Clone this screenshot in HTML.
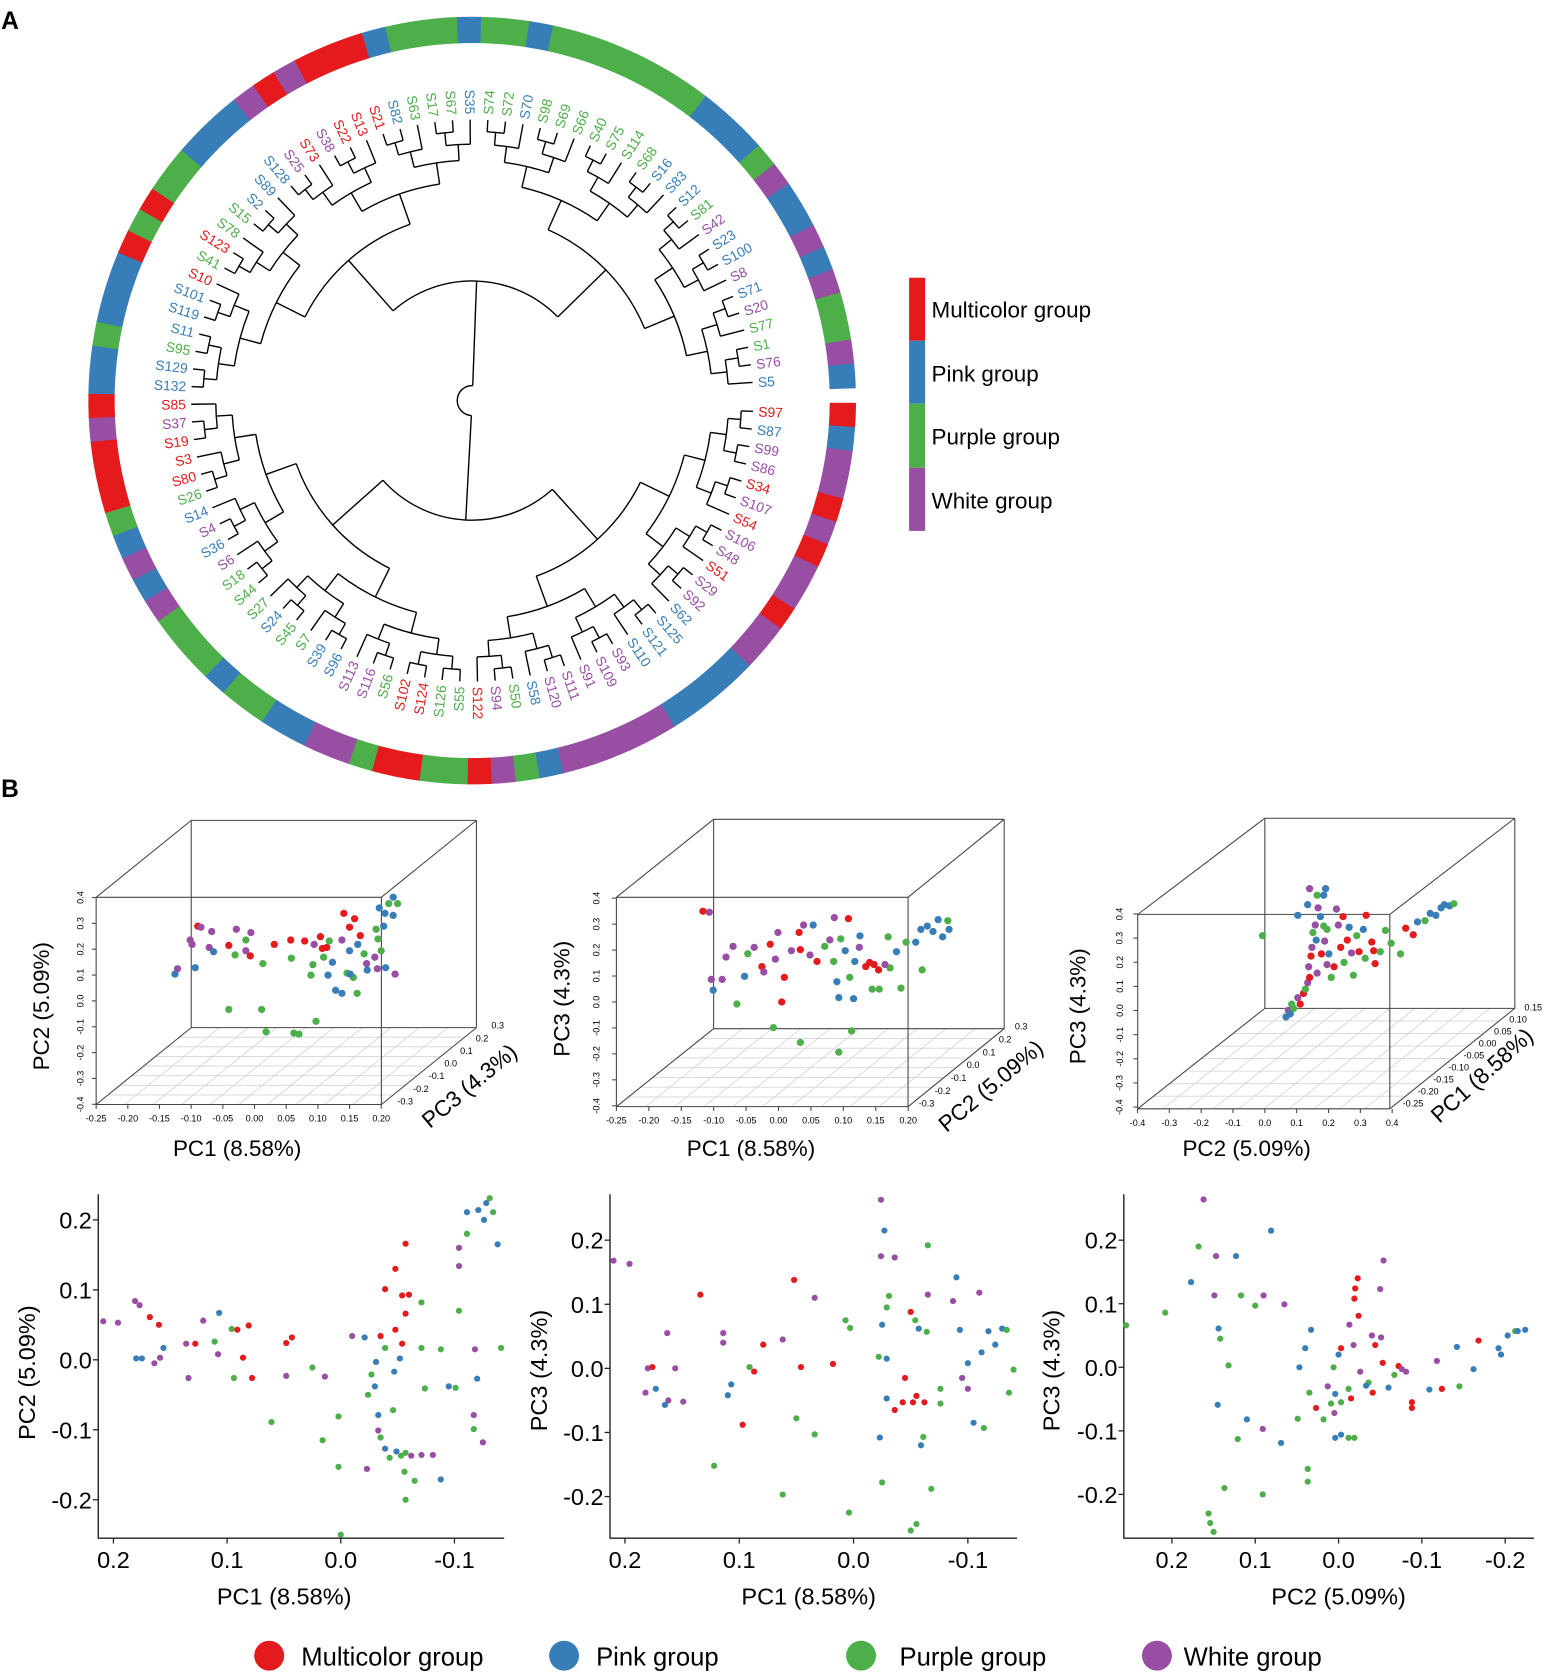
<!DOCTYPE html>
<html><head><meta charset="utf-8">
<style>
html,body{margin:0;padding:0;background:#fff}
svg{display:block;font-family:"Liberation Sans",Arial,sans-serif}
</style></head>
<body>
<svg id="fig" width="1549" height="1676" viewBox="0 0 1450 1569" preserveAspectRatio="none" xmlns="http://www.w3.org/2000/svg">
<rect x="0" y="0" width="1450" height="1569" fill="#fff"/>
<text x="1" y="27" font-size="23" font-weight="bold">A</text>
<text x="1" y="746" font-size="23" font-weight="bold">B</text>
<g id="ring"></g>
<g id="tree" stroke="#000" stroke-width="1.3" fill="none"></g>
<g id="leaflabels" font-size="13"></g>
<g>
<rect x="851" y="260" width="15" height="59" fill="#e41a1c"/>
<rect x="851" y="319" width="15" height="59" fill="#377eb8"/>
<rect x="851" y="378" width="15" height="60" fill="#4daf4a"/>
<rect x="851" y="438" width="15" height="59" fill="#984ea3"/>
<text x="872" y="297" font-size="21">Multicolor group</text>
<text x="872" y="357" font-size="21">Pink group</text>
<text x="872" y="416" font-size="21">Purple group</text>
<text x="872" y="476" font-size="21">White group</text>
</g>
<g id="p3d"></g>
<g id="p2d"></g>
<g font-size="24">
<circle cx="252" cy="1550" r="14" fill="#e41a1c"/>
<text x="282" y="1559">Multicolor group</text>
<circle cx="528" cy="1550" r="14" fill="#377eb8"/>
<text x="558" y="1559">Pink group</text>
<circle cx="806" cy="1550" r="14" fill="#4daf4a"/>
<text x="842" y="1559">Purple group</text>
<circle cx="1083" cy="1550" r="14" fill="#984ea3"/>
<text x="1108" y="1559">White group</text>
</g>
</svg>
<script>
const NS="http://www.w3.org/2000/svg";
const groupColors=["#e41a1c","#377eb8","#4daf4a","#984ea3"];
const leafNames=["S97","S87","S99","S86","S34","S107","S54","S106","S48","S51","S29","S92","S62","S125","S121","S110","S93","S109","S91","S111","S120","S58","S50","S94","S122","S55","S126","S124","S102","S56","S116","S113","S96","S39","S7","S45","S24","S27","S44","S18","S6","S36","S4","S14","S26","S80","S3","S19","S37","S85","S132","S129","S95","S11","S119","S101","S10","S41","S123","S78","S15","S2","S89","S128","S25","S73","S38","S22","S13","S21","S82","S63","S17","S67","S35","S74","S72","S70","S98","S69","S66","S40","S75","S114","S68","S16","S83","S12","S81","S42","S23","S100","S8","S71","S20","S77","S1","S76","S5"];
const leafGroups=[0,1,3,3,0,3,0,3,3,0,3,3,1,1,1,1,3,3,3,3,3,1,2,3,0,2,2,0,0,2,3,3,1,1,2,2,1,2,2,2,3,1,3,1,2,0,0,0,3,0,1,1,2,1,1,1,0,2,0,2,2,1,1,1,3,0,3,0,0,0,1,2,2,2,1,2,2,1,2,2,2,2,2,2,2,1,1,1,2,3,1,1,3,1,3,2,2,3,1];

const s1X=[.209,.196,.181,.177,.168,.160,.180,.175,.164,.159,.156,.136,.128,.134,.121,.107,.111,.108,.094,.096,.091,.081,.086,.078,.048,.043,.048,.025,.061,.014,-.010,-.021,-.031,-.035,.002,.002,.016,-.023,-.024,-.027,-.030,-.033,-.033,-.035,-.039,-.043,-.046,-.049,-.053,-.057,-.062,-.056,-.065,-.071,-.081,-.088,-.057,.000,-.039,-.048,-.054,-.057,-.060,-.057,-.048,-.054,-.039,-.052,-.047,-.071,-.071,-.074,-.088,-.095,-.101,-.104,-.104,-.104,-.111,-.111,-.121,-.128,-.131,-.134,-.126,-.138,-.118,-.120,-.117,-.125,-.141,-.117];
const s1Y=[.055,.053,.084,.078,.061,.050,.002,.002,-.005,.003,.017,.023,.023,-.026,.056,.067,.026,.008,-.026,.044,.043,.049,.003,-.026,.024,.032,-.023,-.011,-.089,-.024,.034,.032,-.003,.034,-.081,-.153,-.115,-.156,-.050,-.021,-.038,-.079,-.101,-.111,-.127,-.140,-.072,-.131,-.137,-.133,-.137,-.160,-.173,-.136,-.136,-.171,-.200,-.250,.101,.130,.092,.166,.093,.066,.043,.023,.017,.002,-.017,.082,.017,-.041,.015,-.038,-.040,.070,.134,.160,.180,.211,.214,.224,.231,.211,.200,.165,.015,-.027,-.079,-.118,.017,-.099];
const s1G=[3,3,3,3,0,0,1,1,3,3,1,3,0,3,3,1,2,3,2,2,0,0,0,0,0,0,3,2,2,3,3,1,1,0,2,2,2,3,2,2,1,1,3,2,1,2,2,1,2,2,3,2,2,3,3,1,2,2,0,0,0,0,0,0,0,0,2,1,1,2,2,2,2,1,2,2,3,3,2,1,1,1,2,2,1,1,3,1,3,3,2,2];

const s2X=[.210,.196,-.024,-.027,-.024,-.036,-.065,.052,.134,.034,-.031,-.029,-.050,-.054,-.065,-.090,-.087,-.110,.163,.114,.114,.079,.062,.007,.003,-.025,-.057,-.064,-.118,-.130,-.134,-.124,-.112,-.100,-.095,-.022,-.029,.180,.176,.156,.182,.173,.162,.165,.149,.091,.087,.107,.110,.097,.046,.018,.122,.062,.004,-.025,-.050,-.055,-.068,.050,.034,-.029,-.043,-.052,-.055,-.062,-.061,-.059,-.023,-.036,-.045,-.076,-.076,-.100,-.105,-.114,-.136,-.140,-.093];
const s2Y=[.168,.163,.263,.215,.175,.173,.192,.138,.115,.110,.113,.095,.088,.075,.115,.142,.105,.118,.055,.055,.040,.037,.045,.075,.063,.068,.062,.057,.058,.062,.060,.037,.025,.008,-.015,.018,.015,.000,.002,.000,-.038,-.032,-.050,-.057,-.052,.002,-.005,-.025,-.042,-.088,.002,.007,-.152,-.197,-.225,-.178,-.253,-.243,-.188,-.078,-.103,-.047,-.053,-.053,-.043,-.053,-.107,-.120,-.108,-.065,-.015,-.055,-.032,-.032,-.085,-.093,-.038,-.002,.060];
const s2G=[3,3,3,1,3,3,2,0,0,3,2,2,0,2,3,1,3,3,3,3,3,0,3,2,2,1,1,2,1,1,2,1,1,1,3,2,1,3,0,3,3,1,3,1,3,2,0,1,1,0,0,0,2,2,2,2,2,2,2,2,2,1,0,0,0,0,2,1,1,0,0,2,2,3,1,2,2,2,1];

const s3X=[.162,.081,.168,.147,.123,.177,.208,.255,.149,.117,.090,.100,.065,.144,.142,.132,.145,.121,.110,.091,.069,.037,.037,.091,.137,.156,.154,.150,.033,-.013,-.024,-.020,-.019,-.023,-.050,-.054,.000,-.003,-.018,-.044,-.040,-.051,.040,.047,.006,-.026,-.036,-.053,-.072,-.076,-.081,-.067,-.060,.035,.013,.004,-.003,-.012,-.015,-.033,-.041,.027,.009,.005,.004,-.003,-.012,-.019,.049,.018,-.088,-.088,-.109,-.124,-.145,-.118,-.142,-.162,-.168,-.195,-.192,-.203,-.212,-.215,-.224];
const s3Y=[.264,.215,.190,.175,.175,.134,.086,.066,.113,.113,.113,.097,.099,.061,.045,.003,-.059,-.113,-.082,-.097,-.119,-.180,-.160,-.200,-.190,-.230,-.245,-.259,.059,.067,.081,.124,.108,.140,.123,.168,.020,.030,.035,.035,.050,.047,.030,.000,.000,-.007,-.024,.007,.002,-.003,-.007,-.012,-.032,-.040,-.030,-.042,-.055,-.034,-.049,-.029,-.040,-.064,-.057,-.072,-.111,-.106,-.111,-.111,-.081,-.082,-.055,-.064,-.035,-.034,-.030,.010,.032,-.003,.042,.020,.030,.050,.057,.057,.059];
const s3G=[3,1,2,3,1,1,2,2,3,2,3,2,3,1,2,2,1,2,1,3,1,2,2,2,2,2,2,2,1,3,0,0,0,0,3,3,1,0,3,0,3,3,1,1,2,3,2,0,0,3,3,2,1,2,3,1,2,2,0,1,0,0,2,3,1,1,2,2,2,2,0,0,1,0,2,3,1,1,0,1,1,1,2,1,1];

const d1X=[-.127,-.123,-.103,-.100,-.091,-.095,-.086,-.073,-.066,-.069,-.042,-.032,-.042,-.030,-.015,-.015,-.007,-.008,.010,.017,.012,.030,.056,.061,.069,.057,.078,.093,.096,.091,.088,.103,.106,.108,.113,.117,.122,.115,.140,.137,.149,.127,.137,.145,.155,.161,.150,.162,.166,.172,.176,.177,.193,.189,.199,.206,.191,.194,.203,.196,.205,.218,.211,.225,.218,.221,.157,.149];
const d1Y=[.117,.138,.25,.233,.304,.142,.30,.221,.204,.283,.229,.192,-.021,.292,.25,.208,.279,.188,-.021,-.108,.158,.233,.25,-.113,-.117,.179,.246,.233,-.067,.154,.113,.263,.217,.183,.221,.246,.163,.113,.354,.25,.208,.054,.042,.121,.104,.042,.117,.233,.267,.196,.158,.133,.138,.183,.208,.142,.292,.254,.304,.375,.354,.417,.392,.392,.346,.117,.333,.30];
const d1G=[1,3,3,3,0,1,3,3,1,3,0,2,2,3,2,3,3,0,2,2,2,0,0,2,2,2,0,3,2,2,2,0,0,2,0,2,1,1,0,3,1,1,1,2,2,2,1,1,0,2,3,1,3,3,2,1,2,2,1,1,1,1,2,2,1,3,0,0];

const d2X=[-.120,-.110,-.107,-.104,-.090,-.084,-.073,-.067,-.055,-.050,-.040,-.028,-.025,-.015,-.010,-.007,-.003,.003,.007,.018,.032,.032,.030,.037,.047,.052,.058,.070,.078,.084,.085,.089,.092,.092,.095,.102,.107,.109,.112,.115,.117,.124,.125,.134,.140,.147,.154,.144,.155,.169,.172,.182,.164,.189,.197,.222,.212,.220,.230,.239,.247,.254,.262,.264];
const d2Y=[.354,.35,.088,.046,.088,.175,.217,-.008,.10,.188,.213,.138,.117,.225,-.10,.167,.271,.0,.096,.20,-.158,.204,.271,.30,.183,.30,.158,.217,.242,.158,.329,.079,.017,-.196,.246,.20,.325,.096,-.113,.013,.158,.213,.258,.138,.154,.146,.125,.05,.05,.254,.133,.196,.146,.054,.233,.125,.233,.283,.296,.275,.321,.254,.317,.283];
const d2G=[0,3,3,1,3,3,3,2,1,2,3,0,3,0,2,3,3,0,0,3,2,0,0,3,3,1,0,2,3,2,3,1,1,2,2,1,0,2,2,1,1,3,1,0,0,0,0,2,2,2,2,1,3,2,2,2,1,1,1,1,1,1,2,1];

const d3X=[-.005,.045,.050,.057,.054,.061,.070,.075,.082,.086,.091,.095,.093,.098,.100,.102,.107,.109,.113,.118,.125,.132,.120,.132,.111,.127,.136,.141,.147,.156,.161,.168,.175,.179,.184,.188,.195,.200,.209,.215,.213,.227,.231,.234,.245,.256,.268,.288,.299,.315,.324,.340,.351,.363,.374,.381,.392,.401,.095,.111,.125,.129,.091,.070,.152,.166];
const d3Y=[.304,-.031,-.004,.022,-.018,.004,.048,.022,.066,.084,.110,.132,.176,.220,.256,.317,.348,.286,.419,.383,.344,.330,.229,.185,.150,.282,.229,.132,.176,.348,.256,.194,.286,.339,.233,.141,.304,.238,.330,.388,.211,.278,.242,.189,.238,.326,.273,.229,.335,.308,.361,.366,.396,.388,.419,.432,.427,.436,.498,.471,.471,.498,.432,.388,.414,.383];
const d3G=[2,1,3,2,1,2,3,0,0,2,3,0,3,0,3,2,3,1,3,1,2,2,0,3,3,3,1,2,0,3,0,2,0,1,3,2,2,0,1,0,2,0,0,0,2,2,2,2,0,0,1,2,1,1,1,1,1,2,3,2,1,1,1,1,3,0];

const ticks3dX=[-0.25,-0.20,-0.15,-0.10,-0.05,0.00,0.05,0.10,0.15,0.20];
const ticks3dY=[-0.4,-0.3,-0.2,-0.1,0.0,0.1,0.2,0.3,0.4];
const ticks3dDepth=[-0.3,-0.2,-0.1,0.0,0.1,0.2,0.3];
const ticks3dX3=[-0.4,-0.3,-0.2,-0.1,0.0,0.1,0.2,0.3,0.4];
const ticks3dDepth3=[-0.25,-0.20,-0.15,-0.10,-0.05,0.00,0.05,0.10,0.15];
const ticks2dPC1=[0.2,0.1,0.0,-0.1];
const ticks2dPC2=[0.2,0.1,0.0,-0.1,-0.2];
const ticks2dY=[0.2,0.1,0.0,-0.1,-0.2];

function mk(tag,attrs,parent){const e=document.createElementNS(NS,tag);for(const k in attrs)e.setAttribute(k,attrs[k]);parent.appendChild(e);return e;}

const CX=442,CY=375;
const N=leafNames.length;
const aStart=2.2,aEnd=356.3;
const step=(aEnd-aStart)/(N-1);
function leafAngle(i){return aStart+i*step;}
function pt(r,a){const t=a*Math.PI/180;return [CX+r*Math.cos(t),CY+r*Math.sin(t)];}
const ring=document.getElementById('ring');
for(let i=0;i<N;i++){
  const a1=leafAngle(i)-step/2,a2=leafAngle(i)+step/2;
  const r1=335,r2=359;
  const p1=pt(r2,a1),p2=pt(r2,a2),p3=pt(r1,a2),p4=pt(r1,a1);
  const seg=mk('path',{d:`M${p1[0]},${p1[1]} A${r2},${r2} 0 0 1 ${p2[0]},${p2[1]} L${p3[0]},${p3[1]} A${r1},${r1} 0 0 0 ${p4[0]},${p4[1]} Z`,fill:groupColors[leafGroups[i]],stroke:groupColors[leafGroups[i]],'stroke-width':0.6},ring);
  
  
}
const labels=document.getElementById('leaflabels');
for(let i=0;i<N;i++){
  const a=leafAngle(i);const p=pt(268,a);
  const flip=a>90&&a<270;
  const t=mk('text',{x:p[0],y:p[1],fill:groupColors[leafGroups[i]],'dominant-baseline':'central','text-anchor':flip?'end':'start',transform:`rotate(${flip?a+180:a} ${p[0]} ${p[1]})`},labels);
  t.textContent=leafNames[i];
  
  
}
const radByH=[263,252,240,225,205,175,112,14,4];
function build(lo,hi){
  if(lo===hi)return {a:leafAngle(lo),h:0};
  const mid=Math.floor((lo+hi)/2);
  const L=build(lo,mid),R=build(mid+1,hi);
  return {a:(L.a+R.a)/2,h:Math.max(L.h,R.h)+1,kids:[L,R]};
}
const treeG=document.getElementById('tree');
function drawNode(n){
  if(!n.kids)return;
  const r=radByH[n.h];
  const [L,R]=n.kids;
  const p1=pt(r,L.a),p2=pt(r,R.a);
  const large=(R.a-L.a)>180?1:0;
  const arc=mk('path',{d:`M${p1[0]},${p1[1]} A${r},${r} 0 ${large} 1 ${p2[0]},${p2[1]}`},treeG);
  
  
  for(const k of n.kids){
    const a=pt(r,k.a),b=pt(radByH[k.h],k.a);
    const ln=mk('line',{x1:a[0],y1:a[1],x2:b[0],y2:b[1]},treeG);
    
    
    drawNode(k);
  }
}
drawNode(build(0,N-1));

const p3d=document.getElementById('p3d');
function line(g,x1,y1,x2,y2,stroke,w){const l=mk('line',{x1,y1,x2,y2,stroke,'stroke-width':w},g);return l;}
function txt(g,x,y,s,size,anchor,rot){const t=mk('text',{x,y,'font-size':size,'text-anchor':anchor||'middle'},g);if(rot!==undefined)t.setAttribute('transform',`rotate(${rot} ${x} ${y})`);t.textContent=s;return t;}
function fmt2(v){return v.toFixed(2);}
function fmt1(v){return v.toFixed(1);}
function box3d(cfg){
  const g=mk('g',{},p3d);
  
  
  const F=cfg.front,B=cfg.back;
  for(let k=1;k<8;k++){const t=k/8;
    const gl=line(g,F.fl+(B.fl-F.fl)*t,F.b+(B.b-F.b)*t,F.fr+(B.fr-F.fr)*t,F.b+(B.b-F.b)*t,'#d4d4d4',0.8);
    }
  for(let k=1;k<10;k++){const t=k/10;
    const gl=line(g,F.fl+(F.fr-F.fl)*t,F.b,B.fl+(B.fr-B.fl)*t,B.b,'#d4d4d4',0.8);
    }
  const c='#444',w=1;
  [[B.fl,B.t,B.fr,B.t],[B.fr,B.t,B.fr,B.b],[B.fl,B.t,B.fl,B.b],[B.fl,B.b,B.fr,B.b],
   [F.fl,F.t,F.tr,F.t],[F.fl,F.t,F.fl,F.b],[F.fl,F.b,F.fr,F.b],[F.tr,F.t,F.tr,F.vb],
   [F.fl,F.t,B.fl,B.t],[F.tr,F.t,B.fr,B.t],[F.fl,F.b,B.fl,B.b],[F.fr,F.b,B.fr,B.b]].forEach(s=>{
    const l=line(g,s[0],s[1],s[2],s[3],c,w);});
  cfg.xt.forEach(v=>{const x=cfg.tx(v);line(g,x,F.b,x,F.b+4,c,1);
    const t=txt(g,x,F.b+16,cfg.xfmt(v),8.5);});
  ticks3dY.forEach(v=>{const y=cfg.ty(v);line(g,F.fl-4,y,F.fl,y,c,1);
    const t=txt(g,cfg.ylx,y,fmt1(v),8.5,'middle',-90);});
  const dt=cfg.dt;
  dt.forEach((v,i)=>{const f=i/(dt.length-1);
    const x=cfg.d0[0]+(cfg.d1[0]-cfg.d0[0])*f,y=cfg.d0[1]+(cfg.d1[1]-cfg.d0[1])*f;
    const t=txt(g,x,y,cfg.dfmt(v),8.5,'start');});
  for(let i=0;i<Math.min(cfg.X.length,cfg.Y.length,cfg.G.length);i++){
    const d=mk('circle',{cx:cfg.px(cfg.X[i]),cy:cfg.py(cfg.Y[i]),r:3.4,fill:groupColors[cfg.G[i]]},g);
    
    
  }
  const t1=txt(g,cfg.xtitle[0],cfg.xtitle[1],cfg.xtitle[2],21);
  const t2=txt(g,cfg.ytitle[0],cfg.ytitle[1],cfg.ytitle[2],21,'middle',-90);
  const t3=txt(g,cfg.dtitle[0],cfg.dtitle[1],cfg.dtitle[2],21,'middle',cfg.dtitle[3]);
}
box3d({name:'pca-3d-pc1-pc2',front:{fl:90,fr:357,tr:357,t:840,b:1034,vb:1034},back:{fl:179,fr:446,t:768,b:962},
  xt:ticks3dX,tx:v=>90+(v+0.25)*593,xfmt:fmt2,ty:v=>937-v*242,ylx:78,
  dt:ticks3dDepth,dfmt:fmt1,d0:[372,1034],d1:[460,963],
  X:d1X,Y:d1Y,G:d1G,px:v=>239+v*592,py:v=>940-v*240,
  xtitle:[222,1082,'PC1 (8.58%)'],ytitle:[46,942,'PC2 (5.09%)'],dtitle:[444,1022,'PC3 (4.3%)',-40]});
box3d({name:'pca-3d-pc1-pc3',front:{fl:577,fr:850,tr:850,t:840,b:1036,vb:1036},back:{fl:668,fr:940,t:767,b:963},
  xt:ticks3dX,tx:v=>577+(v+0.25)*607,xfmt:fmt2,ty:v=>938-v*243,ylx:561,
  dt:ticks3dDepth,dfmt:fmt1,d0:[860,1036],d1:[950,964],
  X:d2X,Y:d2Y,G:d2G,px:v=>730+v*600,py:v=>938-v*240,
  xtitle:[703,1082,'PC1 (8.58%)'],ytitle:[533,935,'PC3 (4.3%)'],dtitle:[932,1022,'PC2 (5.09%)',-40]});
box3d({name:'pca-3d-pc2-pc3',front:{fl:1065,fr:1301,tr:1301,t:856,b:1038,vb:1038},back:{fl:1184,fr:1418,t:766,b:944},
  xt:ticks3dX3,tx:v=>1184+v*298,xfmt:fmt1,ty:v=>946-v*226,ylx:1051,
  dt:ticks3dDepth3,dfmt:fmt2,d0:[1313,1036],d1:[1427,946],
  X:d3X,Y:d3Y,G:d3G,px:v=>1184+v*441,py:v=>945-v*227,
  xtitle:[1167,1082,'PC2 (5.09%)'],ytitle:[1016,942,'PC3 (4.3%)'],dtitle:[1392,1012,'PC1 (8.58%)',-42]});

const p2d=document.getElementById('p2d');
function fmtTick(v){return Math.abs(v)<1e-9?'0.0':v.toFixed(1);}
function scatter2d(cfg){
  const g=mk('g',{},p2d);
  
  
  const ax=mk('path',{d:`M${cfg.left},${cfg.top} L${cfg.left},${cfg.bottom} L${cfg.right},${cfg.bottom}`,stroke:'#222','stroke-width':1.3,fill:'none'},g);
  
  
  cfg.xt.forEach(v=>{const x=cfg.sx(v);line(g,x,cfg.bottom,x,cfg.bottom+5,'#222',1.2);
    const t=txt(g,x,cfg.bottom+28,fmtTick(v),22);});
  cfg.yt.forEach(v=>{const y=cfg.sy(v);line(g,cfg.left-5,y,cfg.left,y,'#222',1.2);
    const t=txt(g,cfg.left-6,y+8,fmtTick(v),22,'end');});
  for(let i=0;i<Math.min(cfg.X.length,cfg.Y.length,cfg.G.length);i++){
    const d=mk('circle',{cx:cfg.sx(cfg.X[i]),cy:cfg.sy(cfg.Y[i]),r:2.9,fill:groupColors[cfg.G[i]]},g);
    
    
  }
  const t1=txt(g,cfg.xtitle[0],1502,cfg.xtitle[1],22);
  const t2=txt(g,cfg.ytitle[0],cfg.ytitle[1],cfg.ytitle[2],22,'middle',-90);
}
scatter2d({name:'pca-pc1-pc2',left:92,right:472,top:1118,bottom:1440,sx:v=>319-v*1064,sy:v=>1273-v*655,xt:ticks2dPC1,yt:ticks2dY.slice(),
  X:s1X,Y:s1Y,G:s1G,xtitle:[266,'PC1 (8.58%)'],ytitle:[33,1285,'PC2 (5.09%)']});
scatter2d({name:'pca-pc1-pc3',left:571,right:952,top:1118,bottom:1440,sx:v=>799-v*1070,sy:v=>1281-v*600,xt:ticks2dPC1,yt:ticks2dY.slice(),
  X:s2X,Y:s2Y,G:s2G,xtitle:[757,'PC1 (8.58%)'],ytitle:[512,1283,'PC3 (4.3%)']});
scatter2d({name:'pca-pc2-pc3',left:1052,right:1436,top:1118,bottom:1440,sx:v=>1253-v*780,sy:v=>1280-v*595,xt:ticks2dPC2,yt:ticks2dY.slice(),
  X:s3X,Y:s3Y,G:s3G,xtitle:[1253,'PC2 (5.09%)'],ytitle:[992,1283,'PC3 (4.3%)']});
</script>
</body></html>
